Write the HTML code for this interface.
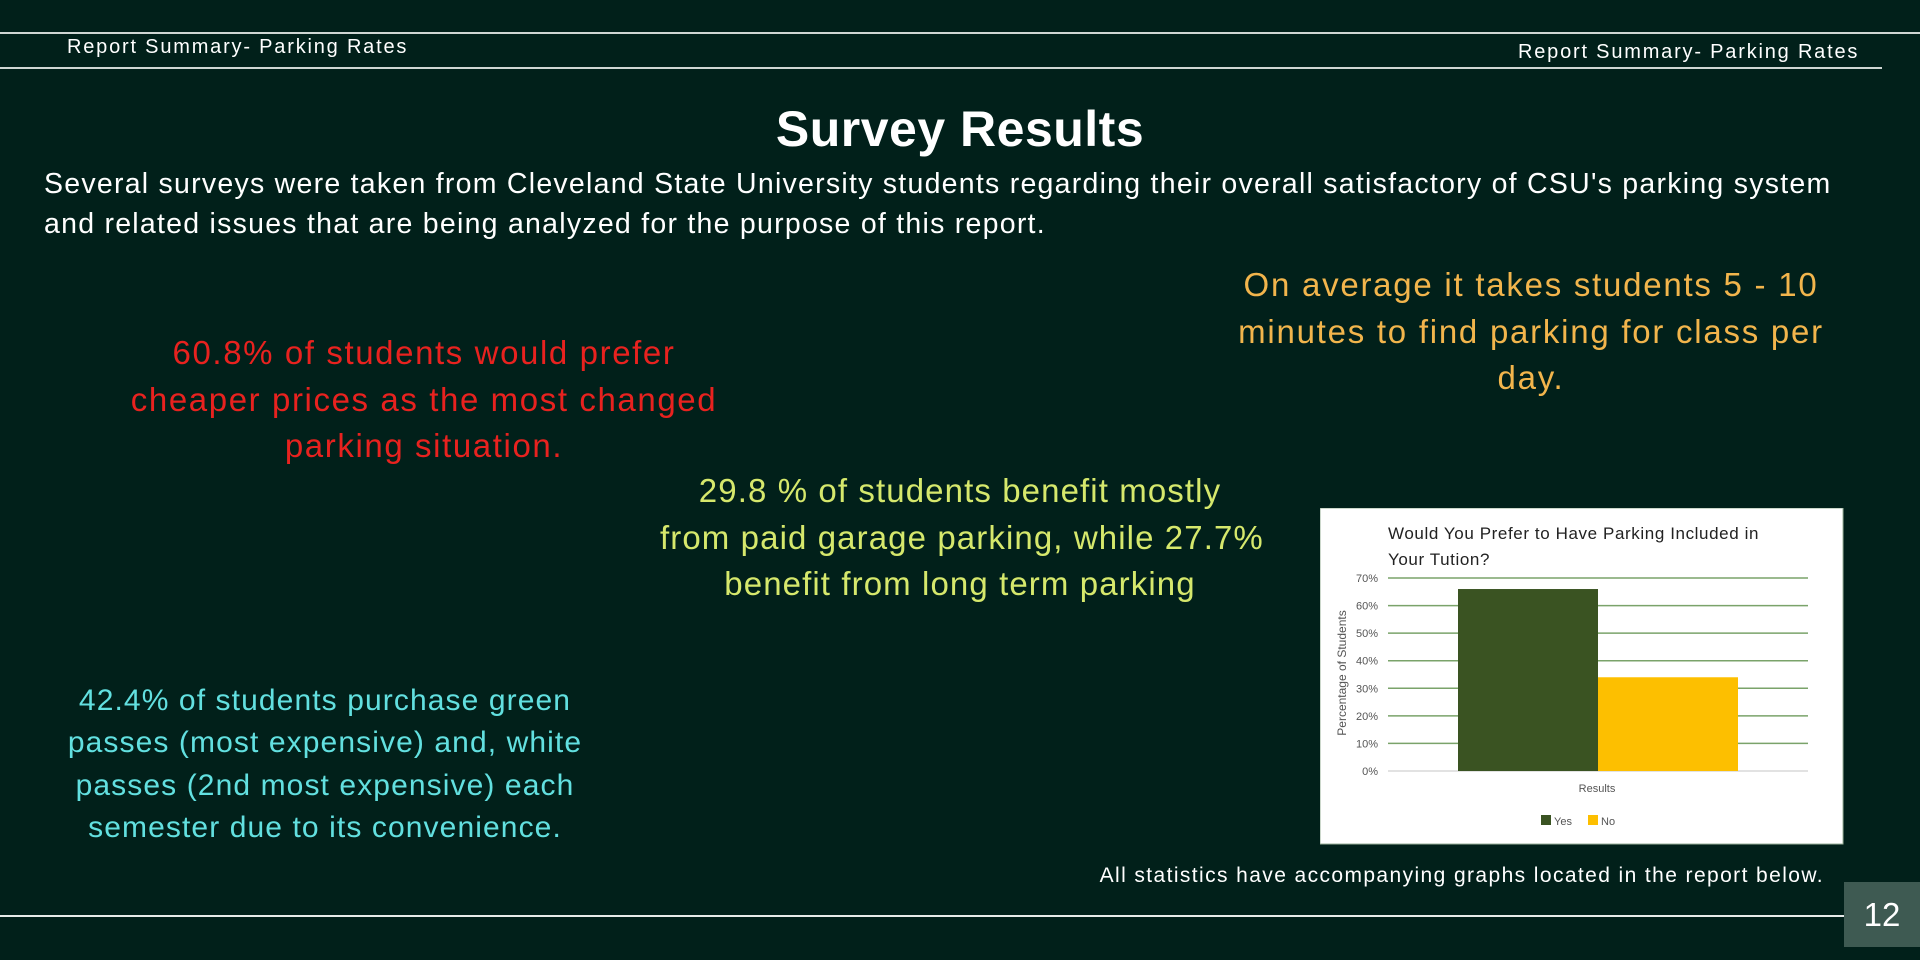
<!DOCTYPE html>
<html><head><meta charset="utf-8"><style>
body{margin:0;width:1920px;height:960px;background:#01201a;position:relative;overflow:hidden;font-family:"Liberation Sans",sans-serif;color:#fff}
.abs{position:absolute}
.c{text-align:center;white-space:nowrap}
</style></head><body>
<div class="abs" style="left:0;top:32px;width:1920px;height:2px;background:#cfd6d3"></div>
<div class="abs" style="left:0;top:67px;width:1882px;height:2px;background:#cfd6d3"></div>
<div class="abs" style="left:67px;top:36px;font-size:20px;letter-spacing:1.8px">Report Summary- Parking Rates</div>
<div class="abs" style="left:1518px;top:41px;font-size:20px;letter-spacing:1.8px">Report Summary- Parking Rates</div>
<div class="abs c" style="left:0;width:1920px;top:100px;font-size:50px;font-weight:bold;letter-spacing:0.5px">Survey Results</div>
<div class="abs" style="left:44px;top:164px;font-size:28.5px;line-height:40px;white-space:nowrap;letter-spacing:1.25px">Several surveys were taken from Cleveland State University students regarding their overall satisfactory of CSU's parking system<br>and related issues that are being analyzed for the purpose of this report.</div>
<div class="abs c" style="left:124px;width:600px;top:330px;font-size:33px;line-height:46.5px;color:#e8221f;letter-spacing:1.6px">60.8% of students would prefer<br>cheaper prices as the most changed<br>parking situation.</div>
<div class="abs c" style="left:1231px;width:600px;top:262px;font-size:33px;line-height:46.5px;color:#f2b54c;letter-spacing:1.75px">On average it takes students 5 - 10<br>minutes to find parking for class per<br>day.</div>
<div class="abs c" style="left:660px;width:600px;top:468px;font-size:33px;line-height:46.5px;color:#d6e86c;letter-spacing:1.1px">29.8 % of students benefit mostly<br>from paid garage parking, while 27.7%<br>benefit from long term parking</div>
<div class="abs c" style="left:25px;width:600px;top:680px;font-size:30px;line-height:42.3px;color:#62e0e0;letter-spacing:1.1px">42.4% of students purchase green<br>passes (most expensive) and, white<br>passes (2nd most expensive) each<br>semester due to its convenience.</div>
<div class="abs" style="right:96px;top:864px;font-size:21px;white-space:nowrap;letter-spacing:1.4px">All statistics have accompanying graphs located in the report below.</div>
<div class="abs" style="left:0;top:915px;width:1844px;height:2px;background:#e6ebe9"></div>
<div class="abs c" style="left:1844px;top:882px;width:76px;height:65px;background:#3e5a52;font-size:33px;line-height:65px">12</div>

<svg class="abs" style="left:1320px;top:508px" width="524" height="337" viewBox="1320 508 524 337">
<rect x="1320" y="508" width="523" height="336" fill="#fff" stroke="#9ab09a"/>
<g id="chart"></g>
</svg>
<script>
const categories=["Yes","No"];
const values=[66,34];
const colors=["#3a5322","#fdbf00"];
const ticks=[0,10,20,30,40,50,60,70];
const NS="http://www.w3.org/2000/svg";
const g=document.getElementById('chart');
const x0=1388,x1=1808,yb=771,yt=578,ymax=70;
const Y=v=>yb-(v/ymax)*(yb-yt);
const barL=1458,barW=140;
const X=i=>barL+i*barW;
function mk(t,a,txt){const e=document.createElementNS(NS,t);for(const k in a)e.setAttribute(k,a[k]);if(txt!==undefined)e.textContent=txt;g.appendChild(e);return e;}
ticks.forEach(t=>{
 const l=mk('line',{x1:x0,x2:x1,y1:Y(t),y2:Y(t),stroke:t===0?'#d8d8d8':'#7aa36a','stroke-width':1.5});
 
 
 const tx=mk('text',{x:x0-10,y:Y(t)+4,'text-anchor':'end','font-size':11,fill:'#555'},t+'%');
 
 
});
values.forEach((v,i)=>{
 const r=mk('rect',{x:X(i),y:Y(v),width:barW,height:yb-Y(v),fill:colors[i]});
 
 
});
let t1=mk('text',{x:1388,y:539,'font-size':17,fill:'#222','letter-spacing':0.6},'Would You Prefer to Have Parking Included in');


let t2=mk('text',{x:1388,y:565,'font-size':17,fill:'#222','letter-spacing':0.6},'Your Tution?');


let xt=mk('text',{x:1597,y:792,'text-anchor':'middle','font-size':11,fill:'#555'},'Results');


let yt2=mk('text',{x:1346,y:673,'text-anchor':'middle','font-size':12,fill:'#555',transform:'rotate(-90 1346 673)'},'Percentage of Students');


categories.forEach((c,i)=>{
 const lx=1541+i*47;
 const s=mk('rect',{x:lx,y:815,width:10,height:10,fill:colors[i]});
 
 
 const t=mk('text',{x:lx+13,y:825,'font-size':11,fill:'#555'},c);
 
 
});
</script>
</body></html>
